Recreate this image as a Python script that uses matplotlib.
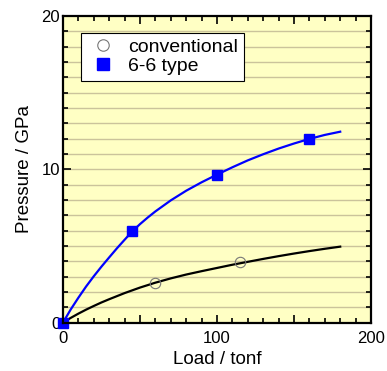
import numpy as np
import matplotlib
matplotlib.use("Agg")
import matplotlib.pyplot as plt
from matplotlib.ticker import MultipleLocator, FixedLocator, FixedFormatter

plt.rcParams['font.family'] = ['Liberation Sans', 'DejaVu Sans']

# measured points
conv_load = [60, 115]
conv_pres = [2.55, 3.98]
six_load = [0, 45, 100, 160]
six_pres = [0, 5.95, 9.6, 11.98]

# fitted curves
conv_fit_load = [0, 5, 10, 15, 20, 25, 30, 40, 50, 60, 70, 80, 90, 100,
                 110, 120, 130, 140, 150, 160, 170, 180]
conv_fit_pres = [0, 0.3, 0.58, 0.84, 1.08, 1.31, 1.52, 1.92, 2.28, 2.6, 2.88,
                 3.13, 3.35, 3.56, 3.77, 3.96, 4.15, 4.33, 4.5, 4.66, 4.81, 4.95]
six_fit_load = [0, 5, 10, 15, 20, 25, 30, 35, 40, 45, 50, 55, 60, 70, 80, 90,
                100, 110, 120, 130, 140, 150, 160, 170, 180]
six_fit_pres = [0, 0.85, 1.62, 2.35, 3.02, 3.65, 4.25, 4.84, 5.4, 5.95, 6.42,
                6.85, 7.25, 7.97, 8.6, 9.15, 9.65, 10.13, 10.58, 10.98, 11.35,
                11.68, 11.98, 12.24, 12.45]

fig = plt.figure(figsize=(3.87, 3.71), dpi=100)
ax = fig.add_axes([0.1628, 0.1307, 0.7959, 0.8262])
ax.set_facecolor('#FFFFC4')

for y in range(1, 20):
    ax.axhline(y, color='#CBC39B', lw=1.0, zorder=1)

ax.plot(conv_fit_load, conv_fit_pres, color='black', lw=1.6, zorder=3)
ax.plot(six_fit_load, six_fit_pres, color='#0000FF', lw=1.6, zorder=3)
ax.plot(conv_load, conv_pres, ls='none', marker='o', ms=7.5, mfc='none',
        mec='#777777', mew=0.8, zorder=4, label='conventional')
ax.plot(six_load, six_pres, ls='none', marker='s', ms=7.5, color='#0000FF',
        zorder=4, clip_on=False, label='6-6 type')

ax.set_xlim(0, 200)
ax.set_ylim(0, 20)
ax.xaxis.set_major_locator(FixedLocator([0, 50, 100, 150, 200]))
ax.xaxis.set_major_formatter(FixedFormatter(['0', '', '100', '', '200']))
ax.xaxis.set_minor_locator(MultipleLocator(10))
ax.yaxis.set_major_locator(FixedLocator([0, 10, 20]))
ax.yaxis.set_minor_locator(MultipleLocator(1))
ax.tick_params(which='both', direction='in', top=True, right=True, width=1.2,
               labelsize=12, colors='black')
ax.tick_params(which='major', length=6)
ax.tick_params(which='minor', length=3.5)
ax.tick_params(axis='x', pad=6)
ax.tick_params(axis='y', pad=2)
for s in ax.spines.values():
    s.set_linewidth(1.6)
    s.set_zorder(5)

ax.set_xlabel('Load / tonf', fontsize=13.5, labelpad=4)
ax.set_ylabel('Pressure / GPa', fontsize=13.5, labelpad=6)

leg = ax.legend(loc='upper left', bbox_to_anchor=(0.06, 0.945), fontsize=14,
                frameon=True, fancybox=False, edgecolor='black', framealpha=1,
                handletextpad=0.5, borderpad=0.3, labelspacing=0.05,
                handlelength=1.6, borderaxespad=0, markerscale=1.1)
leg.get_frame().set_linewidth(0.8)

fig.savefig('out.png', dpi=100)
